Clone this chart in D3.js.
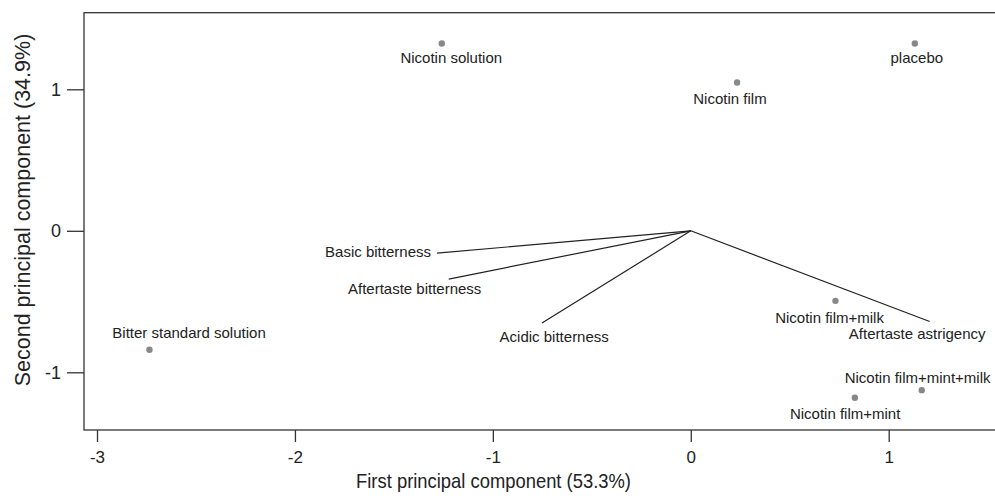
<!DOCTYPE html>
<html><head><meta charset="utf-8">
<script src="https://cdn.jsdelivr.net/npm/d3@7/dist/d3.min.js"></script>
<style>
body{margin:0;background:#fff;}
text{font-family:"Liberation Sans",Arial,Helvetica,sans-serif;fill:#222;}
</style></head><body>
<svg id="c" width="995" height="498"></svg>
<script>
// Samples (PCA scores)
const sampleNames = ["Nicotin solution","Nicotin film","placebo","Bitter standard solution","Nicotin film+milk","Nicotin film+mint","Nicotin film+mint+milk"];
const sampleX = [-1.258, 0.234, 1.132, -2.735, 0.731, 0.829, 1.167];
const sampleY = [1.324, 1.048, 1.324, -0.841, -0.495, -1.180, -1.126];
const sampleLabelX = [-1.210, 0.198, 1.142, -2.535, 0.701, 0.780, 1.146];
const sampleLabelY = [1.220, 0.931, 1.220, -0.723, -0.613, -1.295, -1.037];
// Attributes (loadings)
const attrNames = ["Basic bitterness","Aftertaste bitterness","Acidic bitterness","Aftertaste astrigency"];
const attrX = [-1.282, -1.223, -0.752, 1.207];
const attrY = [-0.158, -0.341, -0.652, -0.641];
const attrLabelX = [-1.580, -1.395, -0.690, 1.144];
const attrLabelY = [-0.148, -0.412, -0.749, -0.730];
// Axes
const xTicks = [-3, -2, -1, 0, 1];
const yTicks = [-1, 0, 1];
const xTitle = "First principal component (53.3%)";
const yTitle = "Second principal component (34.9%)";

(function () {
const svg = d3.select("#c");
const mL = 84, mT = 12.7, mB = 430, mR = 1003;
const x = d3.scaleLinear().domain([-3, 1]).range([97, 888.7]);
const y = d3.scaleLinear().domain([-1, 1]).range([372.3, 89.3]);
const fmt = d => String(d);

const ink = "#333";
svg.append("rect").attr("x", mL).attr("y", mT).attr("width", mR - mL).attr("height", mB - mT)
  .attr("fill", "none").attr("stroke", ink).attr("stroke-width", 1.3);

const xa = svg.append("g").attr("transform", `translate(0,${mB})`)
  .call(d3.axisBottom(x).tickValues(xTicks).tickFormat(fmt).tickSize(12).tickPadding(9));
xa.select(".domain").remove();
xa.selectAll("line").attr("stroke", ink).attr("stroke-width", 1.3);
xa.selectAll("text").attr("font-size", 17).attr("fill", "#222").attr("font-family", null);

const ya = svg.append("g").attr("transform", `translate(${mL},0)`)
  .call(d3.axisLeft(y).tickValues(yTicks).tickFormat(fmt).tickSize(17).tickPadding(6));
ya.select(".domain").remove();
ya.selectAll("line").attr("stroke", ink).attr("stroke-width", 1.3);
ya.selectAll("text").attr("font-size", 18).attr("fill", "#222").attr("font-family", null);

svg.append("text").attr("transform", "translate(493.5,488) scale(0.92,1)").attr("text-anchor", "middle")
  .attr("font-size", 20).text(xTitle);
svg.append("text").attr("transform", `translate(30,210) rotate(-90)`).attr("text-anchor", "middle")
  .attr("font-size", 21.5).text(yTitle);

const g = svg.append("g");
g.selectAll("line.ld").data(attrNames).join("line").attr("class", "ld")
  .attr("x1", x(0)).attr("y1", y(0))
  .attr("x2", (d, i) => x(attrX[i])).attr("y2", (d, i) => y(attrY[i]))
  .attr("stroke", "#222").attr("stroke-width", 1.2);
g.selectAll("text.ld").data(attrNames).join("text").attr("class", "ld")
  .attr("x", (d, i) => x(attrLabelX[i])).attr("y", (d, i) => y(attrLabelY[i]))
  .attr("dy", "0.35em").attr("text-anchor", "middle").attr("font-size", 15).text(d => d);

g.selectAll("circle").data(sampleNames).join("circle")
  .attr("cx", (d, i) => x(sampleX[i])).attr("cy", (d, i) => y(sampleY[i]))
  .attr("r", 3.2).attr("fill", "#888");
g.selectAll("text.sm").data(sampleNames).join("text").attr("class", "sm")
  .attr("x", (d, i) => x(sampleLabelX[i])).attr("y", (d, i) => y(sampleLabelY[i]))
  .attr("dy", "0.35em").attr("text-anchor", "middle").attr("font-size", 15).text(d => d);
})();
</script></body></html>
